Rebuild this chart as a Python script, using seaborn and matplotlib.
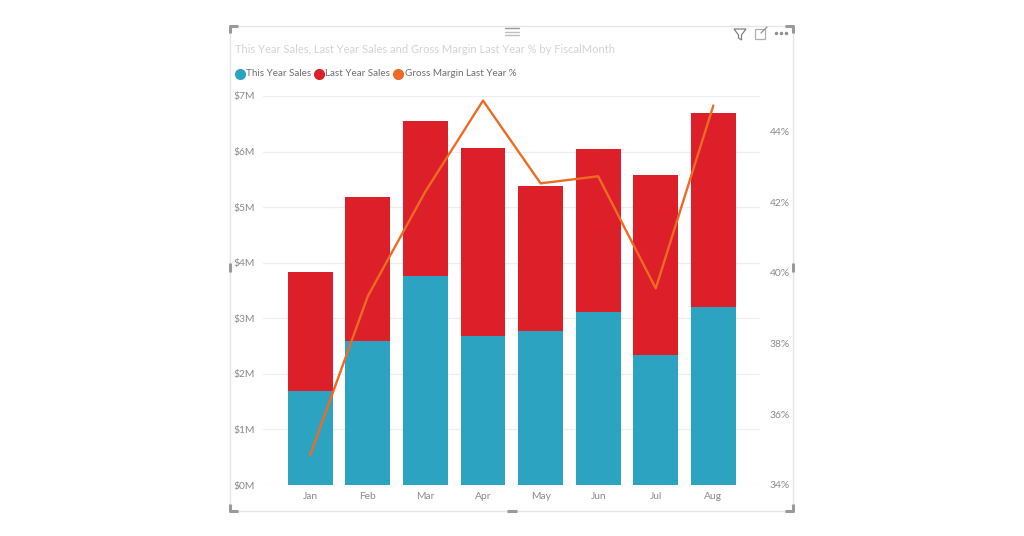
import matplotlib
matplotlib.use("Agg")
import matplotlib.pyplot as plt
from matplotlib.lines import Line2D
from matplotlib.patches import Rectangle, Polygon
import seaborn as sns
import pandas as pd

months = ["Jan", "Feb", "Mar", "Apr", "May", "Jun", "Jul", "Aug"]
this_year = [1.69, 2.59, 3.76, 2.68, 2.77, 3.11, 2.34, 3.20]
last_year = [2.14, 2.59, 2.79, 3.38, 2.61, 2.94, 3.24, 3.49]
margin = [34.85, 39.34, 42.3, 44.87, 42.53, 42.73, 39.56, 44.73]
left_ticks = [0, 1, 2, 3, 4, 5, 6, 7]
right_ticks = [34, 36, 38, 40, 42, 44]
title = "This Year Sales, Last Year Sales and Gross Margin Last Year % by FiscalMonth"
series_names = ["This Year Sales", "Last Year Sales", "Gross Margin Last Year %"]

BLUE, RED, ORANGE = "#2CA3C1", "#DC1F28", "#EE6A25"
TXT = "#8a8a8a"
W, H = 1024, 536

sns.set_theme(style="white")
plt.rcParams["font.family"] = ["Lato", "DejaVu Sans"]

fig = plt.figure(figsize=(W / 100, H / 100), dpi=100, facecolor="white")
ax = fig.add_axes([263 / W, 1 - 485 / H, (760 - 263) / W, (485 - 96) / H])

df = pd.DataFrame({"month": months, "this": this_year, "last": last_year})
df["total"] = df["this"] + df["last"]
sns.barplot(data=df, x="month", y="total", color=RED, saturation=1, width=0.78, ax=ax,
            zorder=2, linewidth=0, edgecolor="none")
sns.barplot(data=df, x="month", y="this", color=BLUE, saturation=1, width=0.78, ax=ax,
            zorder=3, linewidth=0, edgecolor="none")
ax.set_xlim(-0.82, 7.81)
ax.set_ylim(0, 7)
ax.set_xlabel("")
ax.set_ylabel("")
ax.set_yticks(left_ticks)
ax.set_yticklabels([f"${v}M" for v in left_ticks])
ax.grid(axis="y", color="#eeeeee", lw=0.9, zorder=0)
ax.set_axisbelow(True)
ax.tick_params(axis="both", length=0, labelsize=7.4, labelcolor=TXT)
ax.tick_params(axis="x", pad=5)
ax.tick_params(axis="y", pad=6)
for s in ax.spines.values():
    s.set_visible(False)

ax2 = ax.twinx()
sns.lineplot(x=list(range(len(months))), y=margin, color=ORANGE, lw=1.7, ax=ax2, zorder=5)
ax2.set_ylim(34, 45)
ax2.set_yticks(right_ticks)
ax2.set_yticklabels([f"{v}%" for v in right_ticks])
ax2.tick_params(axis="y", length=0, labelsize=7.4, labelcolor=TXT, pad=7)
ax2.grid(False)
for s in ax2.spines.values():
    s.set_visible(False)

def px(x, y):
    return x / W, 1 - y / H

# visual frame
fig.add_artist(Rectangle(px(230, 511), 563 / W, 485 / H, transform=fig.transFigure,
                         fill=False, ec="#e6e6e6", lw=1.0, zorder=-1))
for pts in [[(230, 33), (230, 26), (238, 26)], [(785, 26), (793, 26), (793, 33)],
            [(230, 504), (230, 511), (238, 511)], [(785, 511), (793, 511), (793, 504)],
            [(230, 263), (230, 272)], [(793, 263), (793, 272)], [(507, 511), (517, 511)]]:
    fig.add_artist(Line2D(*zip(*[px(*p) for p in pts]), color="#9a9a9a", lw=2.2,
                          solid_capstyle="butt", transform=fig.transFigure))
for y, c in [(28, "#999999"), (32, "#bdbdbd"), (35, "#bdbdbd")]:
    fig.add_artist(Line2D(*zip(px(505, y), px(519, y)), color=c, lw=1, transform=fig.transFigure))

# header icons
fig.add_artist(Polygon([px(*p) for p in [(734, 29), (746, 29), (741.5, 35), (741.5, 40), (738.5, 38), (738.5, 35)]],
                       closed=True, fill=False, ec="#808080", lw=0.9, transform=fig.transFigure))
fig.add_artist(Rectangle(px(755, 39), 10 / W, 10 / H, fill=False, ec="#b0b0b0", lw=0.9,
                         transform=fig.transFigure))
fig.add_artist(Line2D(*zip(px(761, 33), px(767, 27)), color="#909090", lw=0.9, transform=fig.transFigure))
for x in (776, 781, 786):
    fig.add_artist(Line2D([x / W], [1 - 33 / H], marker="o", ms=1.5, color="#909090", lw=0,
                          transform=fig.transFigure))

# title
fig.text(235 / W, 1 - 49.5 / H, title, fontsize=8.0, color="#d4d4d4", va="center", ha="left")

# legend
for name, c, xm, xt in zip(series_names, [BLUE, RED, ORANGE], [240, 319, 398], [246, 325, 405]):
    fig.add_artist(Line2D([xm / W], [1 - 74 / H], marker="o", ms=7, color=c, lw=0,
                          transform=fig.transFigure))
    fig.text(xt / W, 1 - 74 / H, name, fontsize=7.1, color="#6e6e6e", va="center", ha="left")

fig.savefig("out.png", dpi=100, facecolor="white")
